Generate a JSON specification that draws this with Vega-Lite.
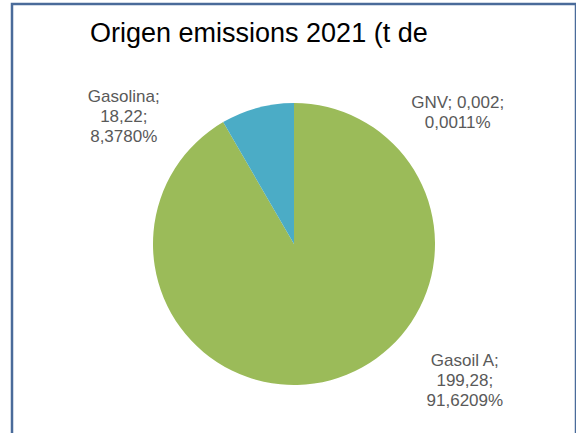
{
  "$schema": "https://vega.github.io/schema/vega-lite/v6.json",
  "width": 564,
  "height": 480,
  "autosize": {"type": "none"},
  "padding": {"left": 12, "top": 4, "right": 0, "bottom": 0},
  "background": "white",
  "view": {"stroke": "#4a6b9a", "strokeWidth": 2.5, "fill": "white"},
  "title": {
    "text": "Origen emissions 2021 (t de",
    "anchor": "start",
    "frame": "group",
    "dx": 78,
    "offset": -65,
    "baseline": "alphabetic",
    "font": "Liberation Sans",
    "fontSize": 27,
    "fontWeight": "normal",
    "color": "#000000"
  },
  "data": {
    "values": [
      {"cat": "GNV", "value": 0.002, "label": ["GNV; 0,002;", "0,0011%"]},
      {"cat": "Gasoil A", "value": 199.28, "label": ["Gasoil A;", "199,28;", "91,6209%"]},
      {"cat": "Gasolina", "value": 18.22, "label": ["Gasolina;", "18,22;", "8,3780%"]}
    ]
  },
  "layer": [
    {
      "mark": {"type": "arc", "outerRadius": 141},
      "encoding": {
        "theta": {"field": "value", "type": "quantitative", "stack": true},
        "color": {
          "field": "cat",
          "type": "nominal",
          "scale": {"domain": ["GNV", "Gasoil A", "Gasolina"], "range": ["#f79646", "#9bbb59", "#4bacc6"]},
          "legend": null
        }
      }
    },
    {
      "mark": {"type": "text", "font": "Liberation Sans", "fontSize": 17, "color": "#595959", "lineHeight": 20, "align": "center", "baseline": "middle"},
      "encoding": {
        "theta": {"field": "value", "type": "quantitative", "stack": true, "scale": {"type": "linear", "domain": [0.001, 99.642, 208.392], "range": [0.86, 2.171, 5.425], "zero": false, "nice": false}},
        "radius": {"field": "value", "type": "quantitative", "scale": {"type": "linear", "domain": [0.002, 18.22, 199.28], "range": [216, 225, 207], "zero": false, "nice": false}},
        "order": {"field": "cat", "type": "nominal"},
        "text": {"field": "label"}
      }
    }
  ],
  "resolve": {"scale": {"theta": "independent", "radius": "independent"}}
}
